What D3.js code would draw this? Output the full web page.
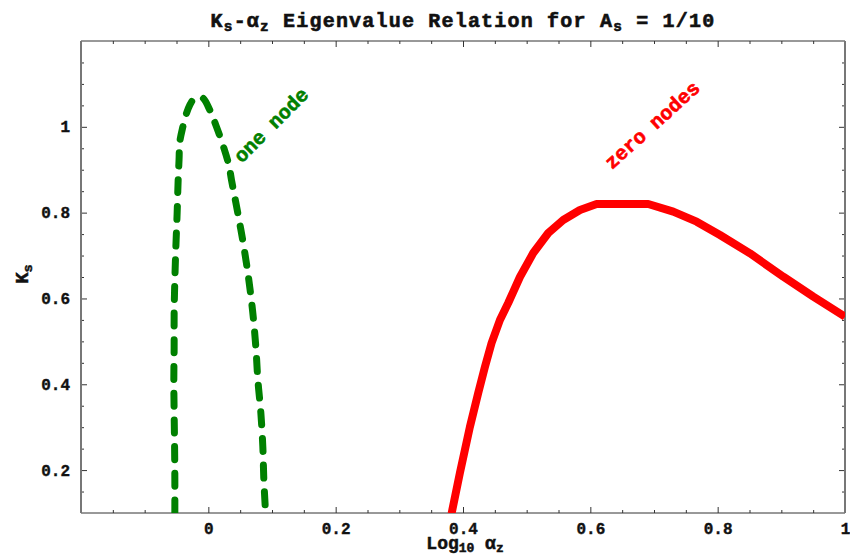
<!DOCTYPE html>
<html><head><meta charset="utf-8">
<script src="https://cdnjs.cloudflare.com/ajax/libs/d3/7.8.5/d3.min.js"></script>
<style>body{margin:0;background:#fff;} svg{display:block;}</style>
</head><body>
<svg id="chart" width="850" height="556"></svg>
<script>
// ---- data ----
const oneNodeLogAlpha = [-0.0526,-0.0526,-0.053,-0.0537,-0.0542,-0.0537,-0.0537,-0.0526,-0.051,-0.049,-0.0474,-0.046,-0.0448,-0.040,-0.0353,-0.029,-0.0228,-0.0165,-0.0086,0.0024,0.0118,0.0228,0.0322,0.0364,0.0463,0.0558,0.0636,0.0699,0.0746,0.0778,0.0825,0.0856,0.0872,0.0899];
const oneNodeK        = [0.1,0.177,0.254,0.333,0.41,0.487,0.566,0.643,0.72,0.799,0.876,0.923,0.965,1.0,1.027,1.051,1.065,1.069,1.067,1.039,1.004,0.958,0.911,0.876,0.799,0.72,0.643,0.566,0.487,0.41,0.333,0.254,0.177,0.1];
const zeroNodesLogAlpha = [0.3821,0.3951,0.4108,0.4239,0.4344,0.4449,0.4580,0.4710,0.4894,0.5103,0.5339,0.5574,0.5837,0.6099,0.6910,0.7302,0.7670,0.8036,0.8507,0.9031,0.9502,1.0];
const zeroNodesK        = [0.099,0.1932,0.3004,0.3797,0.4402,0.4962,0.5498,0.5894,0.6500,0.7059,0.7525,0.7828,0.8061,0.8201,0.8201,0.8022,0.7789,0.7479,0.7052,0.6507,0.6041,0.5575];
const xTickValues = [0, 0.2, 0.4, 0.6, 0.8, 1];
const xTickLabels = ["0", "0.2", "0.4", "0.6", "0.8", "1"];
const yTickValues = [0.2, 0.4, 0.6, 0.8, 1];
const yTickLabels = ["0.2", "0.4", "0.6", "0.8", "1"];
const xDomain = [-0.2, 1.0];
const yDomain = [0.1, 1.2];

// ---- layout ----
const svg = d3.select("#chart");
const L = 81, R = 845, T = 41, B = 513;
const x = d3.scaleLinear().domain(xDomain).range([L, R]);
const y = d3.scaleLinear().domain(yDomain).range([B, T]);
const FONT = "'Liberation Mono', 'Courier New', monospace";

svg.append("defs").append("clipPath").attr("id", "clip")
  .append("rect").attr("x", L).attr("y", T).attr("width", R - L).attr("height", B - T);

const xMinor = d3.range(-0.15, 1.0001, 0.05).map(v => +v.toFixed(2)).filter(v => !xTickValues.some(t => Math.abs(t - v) < 1e-6) && v < 1 - 1e-6);
const yMinor = d3.range(0.15, 1.2001, 0.05).map(v => +v.toFixed(2)).filter(v => !yTickValues.some(t => Math.abs(t - v) < 1e-6) && v < 1.2 - 1e-6);

function ticks(axisGen, vals, size, transform, labels) {
  const g = svg.append("g").attr("transform", transform)
    .call(axisGen.tickValues(vals).tickSize(size).tickSizeOuter(0).tickPadding(6)
      .tickFormat(labels ? (d, i) => labels[i] : () => ""));
  g.select(".domain").remove();
  g.selectAll(".tick line").attr("stroke", "#333").attr("stroke-width", 1);
  g.selectAll(".tick text").attr("font-family", FONT).attr("font-weight", "bold")
    .attr("font-size", 16).attr("fill", "#111").attr("stroke", "#111").attr("stroke-width", 0.4);
  return g;
}
const gxb = ticks(d3.axisTop(x), xTickValues, 6, `translate(0,${B})`, xTickLabels);
ticks(d3.axisTop(x), xMinor, 3, `translate(0,${B})`);
ticks(d3.axisBottom(x), xTickValues, 6, `translate(0,${T})`);
ticks(d3.axisBottom(x), xMinor, 3, `translate(0,${T})`);
const gyl = ticks(d3.axisRight(y), yTickValues, 6, `translate(${L},0)`, yTickLabels);
ticks(d3.axisRight(y), yMinor, 3, `translate(${L},0)`);
ticks(d3.axisLeft(y), yTickValues, 6, `translate(${R},0)`);
ticks(d3.axisLeft(y), yMinor, 3, `translate(${R},0)`);

gxb.selectAll(".tick text").attr("y", 10).attr("dy", "0.71em");
gyl.selectAll(".tick text").attr("x", -11).attr("text-anchor", "end");

// frame
svg.append("line").attr("x1", L).attr("x2", R).attr("y1", T).attr("y2", T).attr("stroke", "#333").attr("stroke-width", 1);
svg.append("line").attr("x1", L).attr("x2", R).attr("y1", B).attr("y2", B).attr("stroke", "#333").attr("stroke-width", 1);
svg.append("line").attr("x1", R).attr("x2", R).attr("y1", T).attr("y2", B).attr("stroke", "#777").attr("stroke-width", 2);
svg.append("line").attr("x1", L).attr("x2", L).attr("y1", T).attr("y2", B).attr("stroke", "#777").attr("stroke-width", 2);

// curves
const line = d3.line().x(d => x(d[0])).y(d => y(d[1])).curve(d3.curveCatmullRom.alpha(0.5));
const lineLin = d3.line().x(d => x(d[0])).y(d => y(d[1]));
const plot = svg.append("g").attr("clip-path", "url(#clip)");
plot.append("path").datum(d3.zip(oneNodeLogAlpha, oneNodeK)).attr("d", line)
  .attr("fill", "none").attr("stroke", "#008000").attr("stroke-width", 7)
  .attr("stroke-linecap", "round").attr("stroke-dasharray", "13,13.7");
plot.append("path").datum(d3.zip(zeroNodesLogAlpha, zeroNodesK)).attr("d", lineLin)
  .attr("fill", "none").attr("stroke", "#ff0000").attr("stroke-width", 8)
  .attr("stroke-linejoin", "round");

// curve labels
svg.append("text").attr("transform", "translate(272,126) rotate(-45)")
  .attr("text-anchor", "middle").attr("dominant-baseline", "middle")
  .attr("font-family", FONT).attr("font-weight", "bold").attr("font-size", 20)
  .attr("stroke", "#008000").attr("stroke-width", 0.6)
  .attr("fill", "#008000").text("one node");
svg.append("text").attr("transform", "translate(653,126) rotate(-42)")
  .attr("text-anchor", "middle").attr("dominant-baseline", "middle")
  .attr("font-family", FONT).attr("font-weight", "bold").attr("font-size", 20)
  .attr("stroke", "#ff0000").attr("stroke-width", 0.6)
  .attr("fill", "#ff0000").text("zero nodes");

// title
const title = svg.append("text").attr("x", (L + R) / 2).attr("y", 27).attr("text-anchor", "middle")
  .attr("font-family", FONT).attr("font-weight", "bold").attr("font-size", 20)
  .attr("letter-spacing", 1.2).attr("stroke", "#111").attr("stroke-width", 0.6).attr("fill", "#111");
function part(el, txt, sub) {
  const t = el.append("tspan").text(txt);
  if (sub) t.attr("font-size", "0.72em").attr("baseline-shift", "-25%");
}
part(title, "K"); part(title, "s", true); part(title, "-α"); part(title, "z", true);
part(title, " Eigenvalue Relation for A"); part(title, "s", true); part(title, " = 1/10");

// axis labels
const xl = svg.append("text").attr("x", (L + R) / 2 + 2).attr("y", 549).attr("text-anchor", "middle")
  .attr("font-family", FONT).attr("font-weight", "bold").attr("font-size", 18)
  .attr("stroke", "#111").attr("stroke-width", 0.5).attr("fill", "#111");
part(xl, "Log"); part(xl, "10", true); part(xl, " α"); part(xl, "z", true);
const yl = svg.append("text").attr("transform", "translate(28,274) rotate(-90)").attr("text-anchor", "middle")
  .attr("font-family", FONT).attr("font-weight", "bold").attr("font-size", 19)
  .attr("stroke", "#111").attr("stroke-width", 0.5).attr("fill", "#111");
part(yl, "K"); part(yl, "s", true);
</script>
</body></html>
